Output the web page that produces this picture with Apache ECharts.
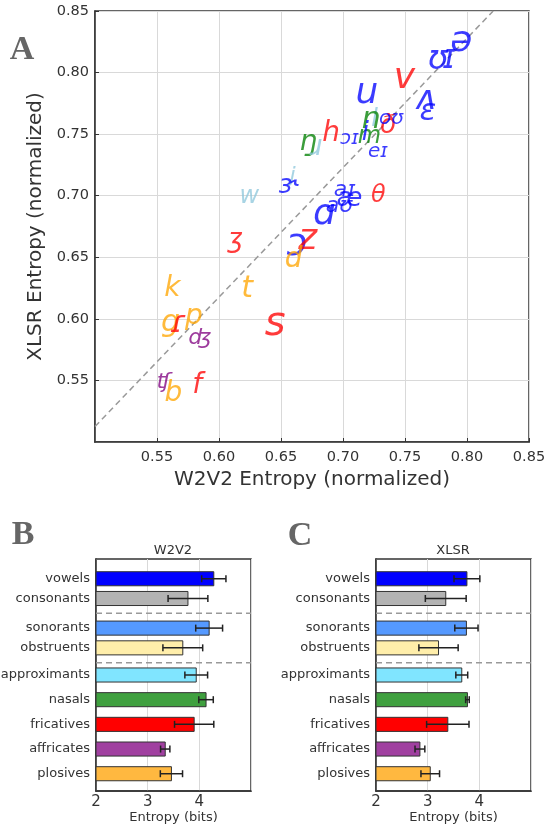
<!DOCTYPE html>
<html><head><meta charset="utf-8">
<script src="https://cdn.jsdelivr.net/npm/echarts@6/dist/echarts.min.js"></script>
<style>html,body{margin:0;padding:0;background:#fff}#c{width:555px;height:825px}</style>
</head><body><div id="c"></div>
<script>
// ---------- Panel A data ----------
const phonemes = ['ə','ʊ','ɪ','v','u','ʌ','ɛ','ð','oʊ','l','n','m','i','ɔɪ','h','ŋ','ɹ','eɪ','j','ɝ','aɪ','æ','aʊ','ɑ','θ','w','ʒ','ɔ','z','d','k','t','g','ɾ','p','ʤ','s','ʧ','b','f'];
const w2v2Norm = [0.7954,0.7766,0.7855,0.7496,0.7192,0.7671,0.7685,0.7362,0.7389,0.7254,0.7227,0.7214,0.7181,0.7052,0.6904,0.6724,0.6783,0.7281,0.6594,0.6562,0.7012,0.7052,0.6971,0.6850,0.7286,0.6245,0.6132,0.6630,0.6715,0.6602,0.5624,0.6226,0.5610,0.5675,0.5798,0.5846,0.6453,0.5553,0.5633,0.5824];
const xlsrNorm = [0.8248,0.8100,0.8105,0.7951,0.7825,0.7776,0.7682,0.7561,0.7628,0.7620,0.7615,0.7480,0.7507,0.7466,0.7507,0.7431,0.7386,0.7359,0.7156,0.7076,0.7043,0.6968,0.6914,0.6847,0.7000,0.6993,0.6642,0.6601,0.6642,0.6480,0.6242,0.6237,0.5967,0.5953,0.6015,0.5845,0.5953,0.5485,0.5394,0.5453];
const phonClass = ['vowel','vowel','vowel','fricative','vowel','vowel','vowel','fricative','vowel','approximant','nasal','nasal','vowel','vowel','fricative','nasal','approximant','vowel','approximant','vowel','vowel','vowel','vowel','vowel','fricative','approximant','fricative','vowel','fricative','plosive','plosive','plosive','plosive','fricative','plosive','affricate','fricative','affricate','plosive','fricative'];
const diagX = [0.5, 0.8211];
const diagY = [0.5126, 0.85];

// ---------- Panels B/C data ----------
const barCategories = ['vowels','consonants','sonorants','obstruents','approximants','nasals','fricatives','affricates','plosives'];
const barPositions = [7.9, 7.1, 5.9, 5.1, 4, 3, 2, 1, 0];
const w2v2Mean = [4.28,3.78,4.19,3.68,3.94,4.13,3.90,3.34,3.46];
const w2v2Err  = [0.235,0.385,0.26,0.385,0.22,0.14,0.38,0.09,0.215];
const xlsrMean = [3.76,3.35,3.75,3.21,3.66,3.77,3.39,2.85,3.05];
const xlsrErr  = [0.25,0.395,0.225,0.38,0.115,0.035,0.41,0.095,0.18];
const separators = [4.5, 6.5];

// ---------- styles ----------
const labelSizes = [36,33,33,36,36,34,31,26,20,24,30,24,26,20,28,28,28,20,22,26,22,26,22,36,24,24,26,38,36,28,28,30,30,30,28,22,40,22,28,28];
const classColors = {vowel:'#0000ff', fricative:'#ff0000', nasal:'#008000', approximant:'#8ec7dc', plosive:'#ffa500', affricate:'#800080'};
const barColors = ['#0000ff','#b3b3b3','#5599ff','#ffeeaa','#80e5ff','#3fa03f','#ff0000','#a040a0','#ffb840'];
const FONT = 'DejaVu Sans';
const TXT = '#333';

const chart = echarts.init(document.getElementById('c'), null, {renderer:'canvas'});

function barAxisY(idx){
  return {gridIndex: idx, type:'value', min:-0.7, max:8.7,
    axisLine:{show:true, onZero:false, lineStyle:{color:'#333', width:1.5}},
    axisTick:{show:false},
    splitLine:{show:false},
    axisLabel:{show:false}};
}
function barAxisX(idx){
  return {gridIndex: idx, type:'value', min:2, max:5, interval:1,
    name:'Entropy (bits)', nameLocation:'middle', nameGap:20,
    nameTextStyle:{fontSize:13, color:TXT, fontFamily:FONT},
    axisLine:{show:true, onZero:false, lineStyle:{color:'#333', width:1.5}},
    axisTick:{show:false},
    splitLine:{show:true, lineStyle:{color:'#d9d9d9', width:1}},
    axisLabel:{fontSize:15, color:TXT, margin:4, fontFamily:FONT, showMaxLabel:false}};
}
function barSeries(gridIdx, means, errs){
  return [{
    type:'custom', xAxisIndex:gridIdx, yAxisIndex:gridIdx, clip:false,
    data: barCategories.map((c,i)=>[means[i], barPositions[i], errs[i], i]),
    encode:{x:0, y:1},
    renderItem:(params, api)=>{
      const v=api.value(0), y=api.value(1), e=api.value(2), i=api.value(3);
      const p0=api.coord([2,y]), p1=api.coord([v,y]);
      const h=api.size([0,0.57])[1];
      const l0=api.coord([v-e,y]), l1=api.coord([v+e,y]);
      const cap=3.5;
      const ln={stroke:'#222', lineWidth:1.5};
      return {type:'group', children:[
        {type:'rect', shape:{x:p0[0], y:p0[1]-h/2, width:p1[0]-p0[0], height:h},
          style:{fill:barColors[i], stroke:'#333', lineWidth:1}},
        {type:'line', shape:{x1:l0[0], y1:l0[1], x2:l1[0], y2:l1[1]}, style:ln},
        {type:'line', shape:{x1:l0[0], y1:l0[1]-cap, x2:l0[0], y2:l0[1]+cap}, style:ln},
        {type:'line', shape:{x1:l1[0], y1:l1[1]-cap, x2:l1[0], y2:l1[1]+cap}, style:ln},
        {type:'text', x:p0[0]-6, y:p0[1], style:{text:barCategories[i], fontSize:13, fontFamily:FONT, fill:TXT, align:'right', verticalAlign:'middle'}}
      ]};
    }
  },{
    type:'custom', xAxisIndex:gridIdx, yAxisIndex:gridIdx,
    data: separators.map(y=>[y]),
    encode:{y:0},
    renderItem:(params, api)=>{
      const y=api.value(0);
      const a=api.coord([2,y]), b=api.coord([5,y]);
      return {type:'line', shape:{x1:a[0], y1:a[1], x2:b[0], y2:b[1]},
        style:{stroke:'#999', lineWidth:1.5, lineDash:[6,4]}};
    }
  }];
}

const option = {
  animation:false,
  textStyle:{fontFamily:FONT},
  grid:[
    {left:95, top:11, width:434, height:431, show:true, borderColor:'#333', borderWidth:1.5, backgroundColor:'transparent'},
    {left:96, top:559, width:155, height:232, show:true, borderColor:'#333', borderWidth:1.5},
    {left:376, top:559, width:155, height:232, show:true, borderColor:'#333', borderWidth:1.5}
  ],
  xAxis:[
    {gridIndex:0, type:'value', min:0.5, max:0.85, interval:0.05,
      name:'W2V2 Entropy (normalized)', nameLocation:'middle', nameGap:25,
      nameTextStyle:{fontSize:20, color:TXT, fontFamily:FONT},
      axisLine:{show:true, onZero:false, lineStyle:{color:'#333', width:1.5}},
      axisTick:{show:true, inside:true, length:4, lineStyle:{color:'#333'}},
      splitLine:{show:true, lineStyle:{color:'#d9d9d9', width:1}},
      axisLabel:{fontSize:14.5, color:TXT, margin:8, showMinLabel:false, formatter:v=>v.toFixed(2)}},
    barAxisX(1), barAxisX(2)
  ],
  yAxis:[
    {gridIndex:0, type:'value', min:0.5, max:0.85, interval:0.05,
      name:'XLSR Entropy (normalized)', nameLocation:'middle', nameGap:46,
      nameTextStyle:{fontSize:20, color:TXT, fontFamily:FONT},
      axisLine:{show:true, onZero:false, lineStyle:{color:'#333', width:1.5}},
      axisTick:{show:true, inside:true, length:4, lineStyle:{color:'#333'}},
      splitLine:{show:true, lineStyle:{color:'#d9d9d9', width:1}},
      axisLabel:{fontSize:14.5, color:TXT, margin:6, showMinLabel:false, formatter:v=>v.toFixed(2)}},
    barAxisY(1), barAxisY(2)
  ],
  graphic:[
    {type:'text', x:22, y:50, style:{text:'A', font:'bold 34px "Liberation Serif"', fill:'#666', align:'center', verticalAlign:'middle'}},
    {type:'text', x:23, y:535, style:{text:'B', font:'bold 34px "Liberation Serif"', fill:'#666', align:'center', verticalAlign:'middle'}},
    {type:'text', x:300, y:536, style:{text:'C', font:'bold 34px "Liberation Serif"', fill:'#666', align:'center', verticalAlign:'middle'}},
    {type:'text', x:173, y:551, style:{text:'W2V2', fontSize:13, fontFamily:FONT, fill:TXT, align:'center', verticalAlign:'middle'}},
    {type:'text', x:453, y:551, style:{text:'XLSR', fontSize:13, fontFamily:FONT, fill:TXT, align:'center', verticalAlign:'middle'}}
  ],
  series:[
    {type:'line', xAxisIndex:0, yAxisIndex:0, data: diagX.map((x,i)=>[x, diagY[i]]),
      symbol:'none', lineStyle:{color:'#999', width:1.5, type:[6,4]}, silent:true, z:1},
    {type:'custom', xAxisIndex:0, yAxisIndex:0, clip:false,
      data: phonemes.map((p,i)=>[w2v2Norm[i], xlsrNorm[i], i]),
      encode:{x:0, y:1}, z:3,
      renderItem:(params, api)=>{
        const i=api.value(2);
        const pt=api.coord([api.value(0), api.value(1)]);
        return {type:'text', x:pt[0], y:pt[1], style:{text:phonemes[i], fontSize:labelSizes[i], fontStyle:'italic', fontFamily:FONT,
          fill:classColors[phonClass[i]], opacity:0.77, align:'center', verticalAlign:'middle'}};
      }},
    ...barSeries(1, w2v2Mean, w2v2Err),
    ...barSeries(2, xlsrMean, xlsrErr)
  ]
};
chart.setOption(option);
</script></body></html>
